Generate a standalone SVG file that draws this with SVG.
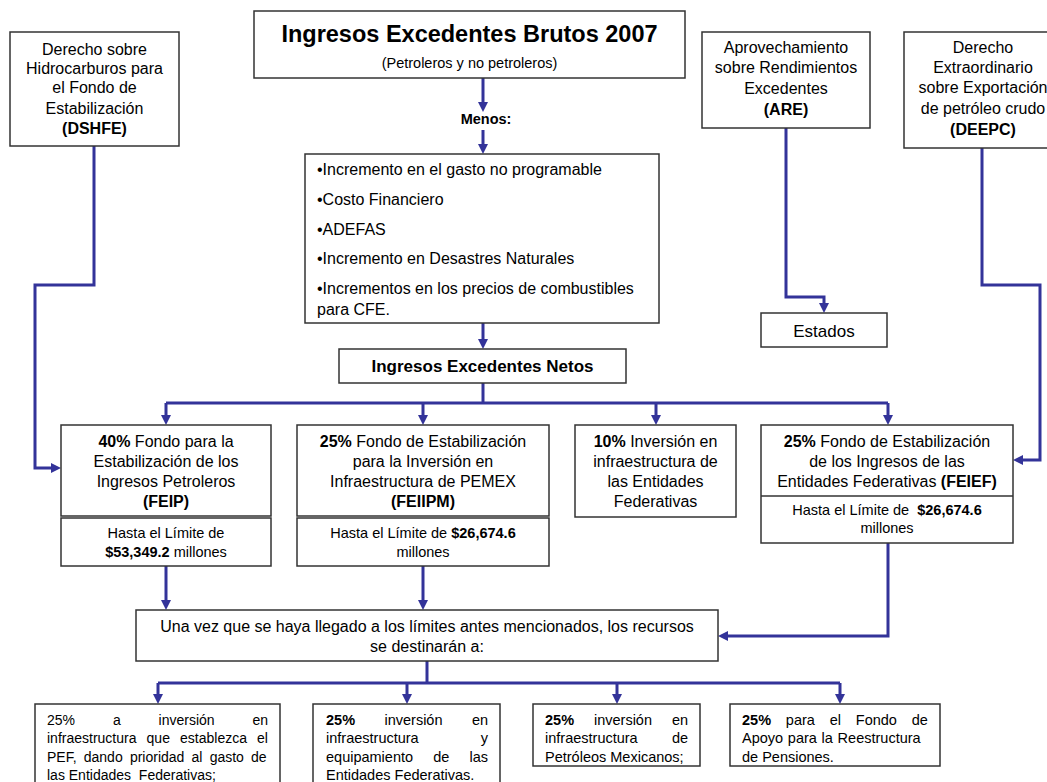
<svg xmlns="http://www.w3.org/2000/svg" width="1047" height="782" viewBox="0 0 1047 782">
<style>
text{font-family:"Liberation Sans",Arial,sans-serif;fill:#000}
.box{fill:#fff;stroke:#333;stroke-width:1.5}
.c{text-anchor:middle}
.f16{font-size:16px}
.f14{font-size:14.5px}
.f13{font-size:14px}
.b{font-weight:bold}
.con{fill:none;stroke:#333399;stroke-width:3}
</style>
<defs>
<marker id="ah" viewBox="0 0 10 10" refX="5" refY="5" markerWidth="10" markerHeight="10" markerUnits="userSpaceOnUse" orient="auto">
<path d="M0,0 L10,5 L0,10 z" fill="#333399"/>
</marker>
</defs>
<rect width="1047" height="782" fill="#fff"/>

<g id="connectors">
<path class="con" d="M483,78 V107" marker-end="url(#ah)"/>
<path class="con" d="M483,130 V149" marker-end="url(#ah)"/>
<path class="con" d="M483,323 V344" marker-end="url(#ah)"/>
<path class="con" d="M483,383 V403"/>
<path class="con" d="M166,403 H888"/>
<path class="con" d="M166,403 V420" marker-end="url(#ah)"/>
<path class="con" d="M423,403 V420" marker-end="url(#ah)"/>
<path class="con" d="M656,403 V420" marker-end="url(#ah)"/>
<path class="con" d="M888,403 V420" marker-end="url(#ah)"/>
<path class="con" d="M94,146 V285 H35 V468 H56" marker-end="url(#ah)"/>
<path class="con" d="M982,148 V285 H1040 V460 H1018" marker-end="url(#ah)"/>
<path class="con" d="M786,128 V297 H824 V308" marker-end="url(#ah)"/>
<path class="con" d="M166,566 V605" marker-end="url(#ah)"/>
<path class="con" d="M423,566 V605" marker-end="url(#ah)"/>
<path class="con" d="M888,543 V636 H723" marker-end="url(#ah)"/>
<path class="con" d="M427,661 V683"/>
<path class="con" d="M158,683 H840"/>
<path class="con" d="M158,683 V699" marker-end="url(#ah)"/>
<path class="con" d="M407,683 V699" marker-end="url(#ah)"/>
<path class="con" d="M617,683 V699" marker-end="url(#ah)"/>
<path class="con" d="M840,683 V699" marker-end="url(#ah)"/>
</g>

<g id="dshfe">
<rect class="box" x="10" y="32" width="169" height="114"/>
<text class="c f16" x="94.5" y="55">Derecho sobre</text>
<text class="c f16" x="94.5" y="74">Hidrocarburos para</text>
<text class="c f16" x="94.5" y="93">el Fondo de</text>
<text class="c f16" x="94.5" y="114">Estabilización</text>
<text class="c f16 b" x="94.5" y="134">(DSHFE)</text>
</g>

<g id="brutos">
<rect class="box" x="254" y="11" width="431" height="67"/>
<text class="c b" x="469.5" y="42" font-size="23.5px">Ingresos Excedentes Brutos 2007</text>
<text class="c f14" x="469.5" y="68">(Petroleros y no petroleros)</text>
</g>

<g id="menos">
<text class="c f14 b" x="486" y="124">Menos:</text>
</g>

<g id="are">
<rect class="box" x="702" y="32" width="168" height="96"/>
<text class="c f16" x="786" y="53">Aprovechamiento</text>
<text class="c f16" x="786" y="73">sobre Rendimientos</text>
<text class="c f16" x="786" y="94">Excedentes</text>
<text class="c f16 b" x="786" y="115">(ARE)</text>
</g>

<g id="deepc">
<rect class="box" x="904" y="32" width="158" height="116"/>
<text class="c f16" x="983" y="53">Derecho</text>
<text class="c f16" x="983" y="73">Extraordinario</text>
<text class="c f16" x="983" y="93">sobre Exportación</text>
<text class="c f16" x="983" y="114">de petróleo crudo</text>
<text class="c f16 b" x="983" y="135">(DEEPC)</text>
</g>

<g id="menos-lista">
<rect class="box" x="305" y="154" width="354" height="169"/>
<text class="f16" x="317" y="175">•Incremento en el gasto no programable</text>
<text class="f16" x="317" y="205">•Costo Financiero</text>
<text class="f16" x="317" y="235">•ADEFAS</text>
<text class="f16" x="317" y="264">•Incremento en Desastres Naturales</text>
<text class="f16" x="317" y="294">•Incrementos en los precios de combustibles</text>
<text class="f16" x="317" y="315">para CFE.</text>
</g>

<g id="estados">
<rect class="box" x="761" y="313" width="126" height="34"/>
<text class="c" x="824" y="337" font-size="17px">Estados</text>
</g>

<g id="netos">
<rect class="box" x="339" y="349" width="287" height="34"/>
<text class="c b" x="482.5" y="372" font-size="17px">Ingresos Excedentes Netos</text>
</g>

<g id="feip">
<rect class="box" x="61" y="425" width="210" height="91"/>
<text class="c f16" x="166" y="447"><tspan class="b">40%</tspan> Fondo para la</text>
<text class="c f16" x="166" y="467">Estabilización de los</text>
<text class="c f16" x="166" y="487">Ingresos Petroleros</text>
<text class="c f16 b" x="166" y="507">(FEIP)</text>
<rect class="box" x="61" y="518" width="210" height="48"/>
<text class="c f14" x="166" y="538">Hasta el Límite de</text>
<text class="c f14" x="166" y="557"><tspan class="b">$53,349.2</tspan> millones</text>
</g>

<g id="feiipm">
<rect class="box" x="297" y="425" width="252" height="91"/>
<text class="c f16" x="423" y="447"><tspan class="b">25%</tspan> Fondo de Estabilización</text>
<text class="c f16" x="423" y="467">para la Inversión en</text>
<text class="c f16" x="423" y="487">Infraestructura de PEMEX</text>
<text class="c f16 b" x="423" y="507">(FEIIPM)</text>
<rect class="box" x="297" y="518" width="252" height="48"/>
<text class="c f14" x="423" y="538">Hasta el Límite de <tspan class="b">$26,674.6</tspan></text>
<text class="c f14" x="423" y="557">millones</text>
</g>

<g id="infra10">
<rect class="box" x="575" y="425" width="161" height="92"/>
<text class="c f16" x="655.5" y="447"><tspan class="b">10%</tspan> Inversión en</text>
<text class="c f16" x="655.5" y="467">infraestructura de</text>
<text class="c f16" x="655.5" y="487">las Entidades</text>
<text class="c f16" x="655.5" y="507">Federativas</text>
</g>

<g id="feief">
<rect class="box" x="761" y="425" width="252" height="118"/>
<line x1="761" y1="496" x2="1013" y2="496" stroke="#333" stroke-width="1.5"/>
<text class="c f16" x="887" y="447"><tspan class="b">25%</tspan> Fondo de Estabilización</text>
<text class="c f16" x="887" y="467">de los Ingresos de las</text>
<text class="c f16" x="887" y="487">Entidades Federativas <tspan class="b">(FEIEF)</tspan></text>
<text class="c f14" x="887" y="515" xml:space="preserve">Hasta el Límite de  <tspan class="b">$26,674.6</tspan></text>
<text class="c f14" x="887" y="533">millones</text>
</g>

<g id="destino">
<rect class="box" x="136" y="610" width="582" height="51"/>
<text class="c f16" x="427" y="632">Una vez que se haya llegado a los límites antes mencionados, los recursos</text>
<text class="c f16" x="427" y="652">se destinarán a:</text>
</g>

<g id="pef">
<rect class="box" x="35" y="704" width="245" height="90"/>
<text class="f13" x="47" y="725" word-spacing="34">25% a inversión en</text>
<text class="f13" x="47" y="743" word-spacing="6.2">infraestructura que establezca el</text>
<text class="f13" x="47" y="762" word-spacing="3.3">PEF, dando prioridad al gasto de</text>
<text class="f13" x="47" y="780" xml:space="preserve">las Entidades  Federativas;</text>
</g>

<g id="equipamiento">
<rect class="box" x="313" y="704" width="187" height="90"/>
<text class="f14" x="326" y="725" word-spacing="25.4"><tspan class="b">25%</tspan> inversión en</text>
<text class="f14" x="326" y="743" word-spacing="58.1">infraestructura y</text>
<text class="f14" x="326" y="762" word-spacing="16.1">equipamiento de las</text>
<text class="f14" x="326" y="780">Entidades Federativas.</text>
</g>

<g id="pemex">
<rect class="box" x="533" y="704" width="167" height="62"/>
<text class="f14" x="545" y="725" word-spacing="15.9"><tspan class="b">25%</tspan> inversión en</text>
<text class="f14" x="545" y="743" word-spacing="30.2">infraestructura de</text>
<text class="f14" x="545" y="762">Petróleos Mexicanos;</text>
</g>

<g id="pensiones">
<rect class="box" x="730" y="704" width="210" height="62"/>
<text class="f14" x="742" y="725" word-spacing="10.8"><tspan class="b">25%</tspan> para el Fondo de</text>
<text class="f14" x="742" y="743" word-spacing="0.7">Apoyo para la Reestructura</text>
<text class="f14" x="742" y="762">de Pensiones.</text>
</g>
</svg>
